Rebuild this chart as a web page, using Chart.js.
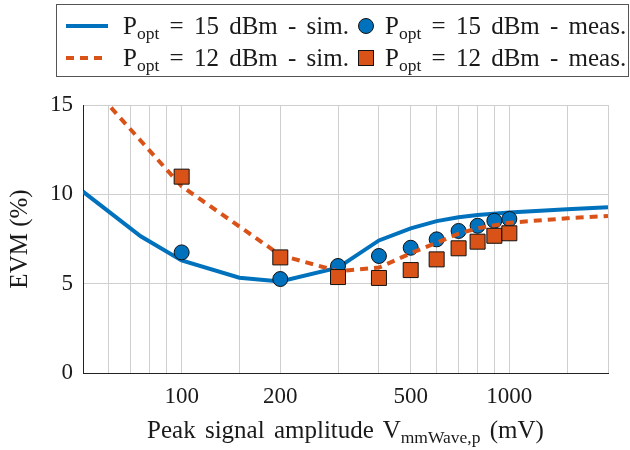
<!DOCTYPE html>
<html>
<head>
<meta charset="utf-8">
<script src="https://cdn.jsdelivr.net/npm/chart.js@4"></script>
<style>
  html, body { margin: 0; padding: 0; background: #fff; }
  #wrap { position: relative; width: 630px; height: 450px; font-family: "Liberation Serif", serif; color: #1a1a1a; }
  #chart { position: absolute; left: 0; top: 0; }
  .legend { position: absolute; left: 56px; top: 4px; width: 573px; height: 73px; border: 1px solid #555; box-sizing: border-box; }
  .lg-item { position: absolute; font-size: 25px; line-height: 24px; white-space: nowrap; word-spacing: 4px; }
  .sw { position: absolute; }
  sub { font-size: 0.7em; vertical-align: -0.3em; line-height: 0; word-spacing: 0; }
  #xtitle { position: absolute; left: 83px; width: 525px; top: 418px; text-align: center; font-size: 25px; line-height: 24px; white-space: nowrap; word-spacing: 3px; }
</style>
</head>
<body>
<div id="wrap">
  <canvas id="chart" width="630" height="450"></canvas>
  <div class="legend">
    <svg class="sw" style="left:8px;top:16px" width="44" height="10"><line x1="1" y1="5" x2="43" y2="5" stroke="#0072BD" stroke-width="4"/></svg>
    <div class="lg-item" style="left:66px;top:9px">P<sub>opt</sub> = 15 dBm - sim.</div>
    <svg class="sw" style="left:300px;top:12px" width="18" height="18"><circle cx="9" cy="9" r="7.5" fill="#0072BD" stroke="#111" stroke-width="1"/></svg>
    <div class="lg-item" style="left:328px;top:9px">P<sub>opt</sub> = 15 dBm - meas.</div>
    <svg class="sw" style="left:8px;top:48px" width="44" height="10"><line x1="1" y1="5" x2="43" y2="5" stroke="#D95319" stroke-width="4" stroke-dasharray="8,6"/></svg>
    <div class="lg-item" style="left:66px;top:41px">P<sub>opt</sub> = 12 dBm - sim.</div>
    <svg class="sw" style="left:300px;top:44px" width="18" height="18"><rect x="1.5" y="1.5" width="15" height="15" fill="#D95319" stroke="#111" stroke-width="1"/></svg>
    <div class="lg-item" style="left:328px;top:41px">P<sub>opt</sub> = 12 dBm - meas.</div>
  </div>
  <div id="xtitle">Peak signal amplitude V<sub>mmWave,p</sub> (mV)</div>
</div>
<script>
// simulated curves, sampled on a common amplitude grid (mV)
const simX = [50, 75, 100, 150, 200, 300, 400, 500, 600, 700, 800, 1000, 1500, 2000];
const sim15 = [10.15, 7.65, 6.3, 5.33, 5.12, 5.9, 7.42, 8.1, 8.5, 8.72, 8.84, 8.98, 9.17, 9.28];
const sim12 = [16.6, 13.0, 10.45, 8.2, 6.6, 5.7, 5.9, 6.7, 7.29, 7.8, 8.1, 8.41, 8.66, 8.79];

// measured points
const measX = [100, 200, 300, 400, 500, 600, 700, 800, 900, 1000];
const meas15 = [6.75, 5.26, 5.99, 6.55, 7.01, 7.48, 7.95, 8.24, 8.52, 8.62];
const meas12 = [10.99, 6.47, 5.37, 5.32, 5.76, 6.36, 6.98, 7.35, 7.68, 7.82];

const xTickLabels = [100, 200, 500, 1000];
const yTicks = [0, 5, 10, 15];

const BLUE = '#0072BD';
const ORANGE = '#D95319';
const FONT = 'Liberation Serif';

const pts = (xs, ys) => xs.map((x, i) => ({ x, y: ys[i] }));

new Chart(document.getElementById('chart'), {
  type: 'line',
  data: {
    datasets: [
      { data: pts(simX, sim15), borderColor: BLUE, borderWidth: 4, pointRadius: 0, tension: 0, order: 4, clip: 0 },
      { data: pts(measX, meas15), showLine: false, pointStyle: 'circle', pointRadius: 7.5,
        backgroundColor: BLUE, pointBorderColor: '#111', pointBorderWidth: 1, order: 3 },
      { data: pts(simX, sim12), borderColor: ORANGE, borderWidth: 4, borderDash: [8, 6], pointRadius: 0, tension: 0, order: 2, clip: 0 },
      { data: pts(measX, meas12), showLine: false, pointStyle: 'rect', pointRadius: 10.6,
        backgroundColor: ORANGE, pointBorderColor: '#111', pointBorderWidth: 1, order: 1 },
    ],
  },
  options: {
    responsive: false,
    animation: false,
    layout: { padding: { top: 105, right: 22, left: 0, bottom: 0 } },
    plugins: { legend: { display: false }, tooltip: { enabled: false } },
    scales: {
      x: {
        type: 'logarithmic',
        min: 50,
        max: 2000,
        afterFit: (s) => { s.height = 77; },
        grid: { color: '#cfcfcf', lineWidth: 1, drawTicks: false },
        border: { color: '#222', width: 1 },
        ticks: {
          autoSkip: false,
          maxRotation: 0,
          padding: 10,
          color: '#1a1a1a',
          font: { family: FONT, size: 23 },
          callback: (v) => (xTickLabels.includes(Math.round(v)) ? String(Math.round(v)) : ''),
        },
      },
      y: {
        min: 0,
        max: 15,
        afterFit: (s) => { s.width = 83; },
        afterBuildTicks: (s) => { s.ticks = yTicks.map((v) => ({ value: v })); },
        grid: { color: '#cfcfcf', lineWidth: 1, drawTicks: false },
        border: { color: '#222', width: 1 },
        ticks: { padding: 10, color: '#1a1a1a', font: { family: FONT, size: 23 } },
        title: { display: true, text: 'EVM (%)', color: '#1a1a1a', font: { family: FONT, size: 25 }, padding: { top: 5, bottom: 0 } },
      },
    },
  },
});
</script>
</body>
</html>
